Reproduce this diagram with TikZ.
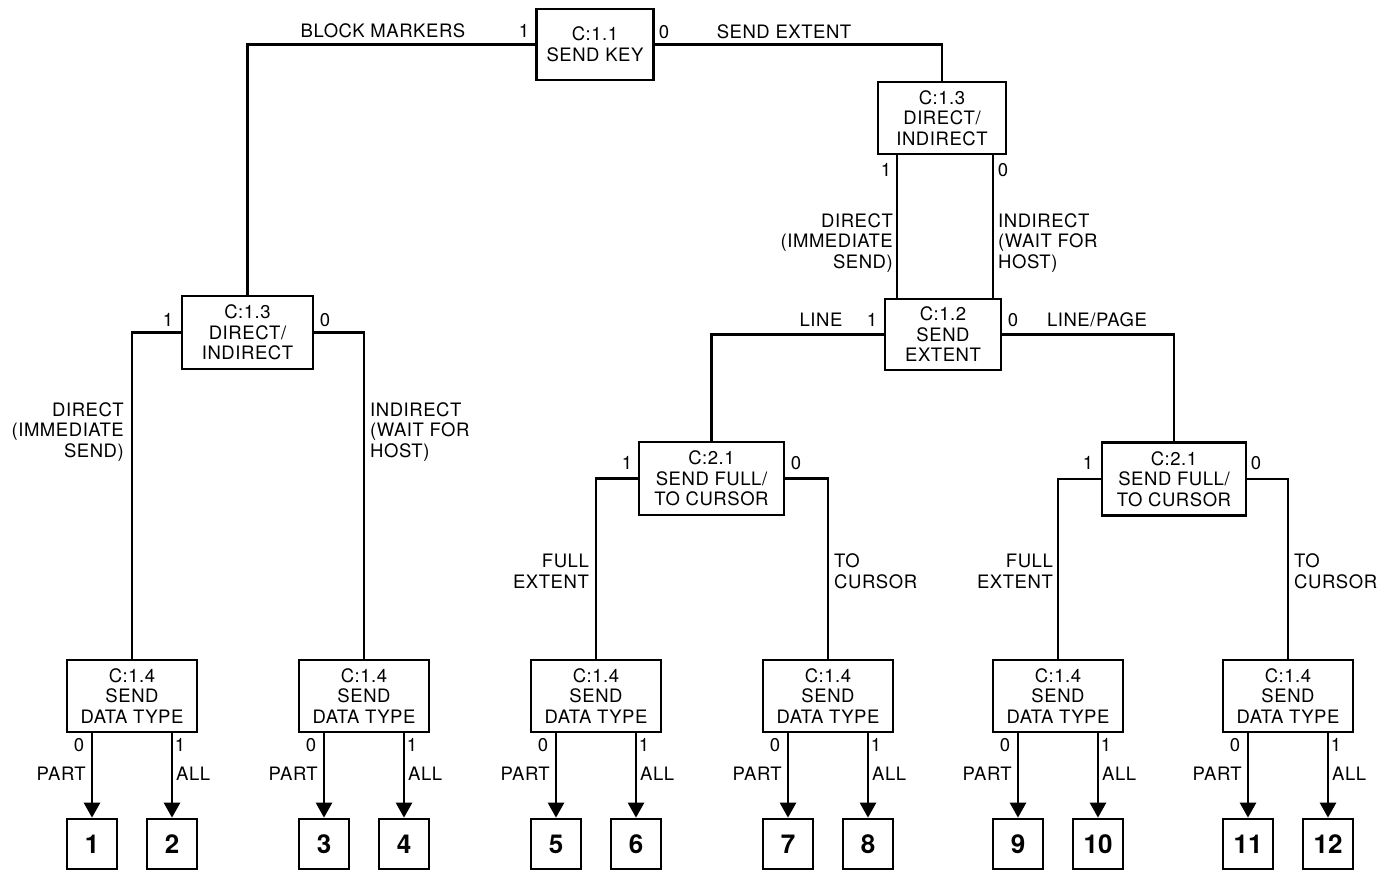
\documentclass[tikz,border=0pt]{standalone}
\usepackage{fontspec}
\setmainfont{TeX Gyre Heros}
\newfontfamily\spacedfont[LetterSpace=3]{TeX Gyre Heros}
\usetikzlibrary{arrows.meta}
\begin{document}
\begin{tikzpicture}[x=1pt,y=-1pt,
  txt/.style={font=\spacedfont\fontsize{18.5}{20.5}\selectfont},
  box/.style={draw, line width=2.7pt, rectangle, inner sep=0pt, align=center, txt},
  leaf/.style={draw, line width=2.7pt, rectangle, inner sep=0pt, minimum width=50pt, minimum height=50pt, font=\fontsize{26}{26}\selectfont\bfseries},
  lbl/.style={inner sep=0pt, txt},
  lblr/.style={inner sep=0pt, txt, align=right, anchor=east},
  lbll/.style={inner sep=0pt, txt, align=left, anchor=west},
  conn/.style={line width=2.6pt},
  arr/.style={line width=2.6pt, -{Triangle[width=16pt,length=15pt]}}
]
\useasboundingbox (0,0) rectangle (1393,871);

% main boxes
\node[box, minimum width=117pt, minimum height=71pt] (k11) at (595,44.5) {C:1.1\\SEND KEY};
\node[box, minimum width=128pt, minimum height=72pt] (d13R) at (942,118) {C:1.3\\DIRECT/\\INDIRECT};
\node[box, minimum width=131pt, minimum height=73pt] (d13L) at (247.5,332.5) {C:1.3\\DIRECT/\\INDIRECT};
\node[box, minimum width=116pt, minimum height=71pt] (e12) at (943,334.5) {C:1.2\\SEND\\EXTENT};
\node[box, minimum width=145pt, minimum height=73pt] (f21L) at (711.5,478.5) {C:2.1\\SEND FULL/\\TO CURSOR};
\node[box, minimum width=144pt, minimum height=73pt] (f21R) at (1174,479) {C:2.1\\SEND FULL/\\TO CURSOR};

% data type boxes, leaves, arrows
\foreach \i/\c in {1/132,2/364,3/596,4/828,5/1058,6/1288}{
  \node[box, minimum width=130pt, minimum height=72pt] (t\i) at (\c,696) {C:1.4\\SEND\\DATA TYPE};
  \pgfmathtruncatemacro{\a}{2*\i-1}
  \pgfmathtruncatemacro{\b}{2*\i}
  \node[leaf] (l\a) at (\c-40,844) {\a};
  \node[leaf] (l\b) at (\c+40,844) {\b};
  \draw[arr] (t\i.south -| l\a.north) -- (l\a.north);
  \draw[arr] (t\i.south -| l\b.north) -- (l\b.north);
  \node[lbl] (z\i) at (\c-53,745) {0};
  \node[lbl] (o\i) at (\c+48,745) {1};
  \node[lblr] (p\i) at (\c-46,774) {PART};
  \node[lbll] (a\i) at (\c+44,774) {ALL};
}

% connectors
\draw[conn] (k11.west) -| (d13L.north);
\draw[conn] (k11.east) -| (d13R.north);
\draw[conn] ([xshift=-45pt]d13R.south) -- ([xshift=-45pt]d13R.south |- e12.north);
\draw[conn] ([xshift=51pt]d13R.south) -- ([xshift=51pt]d13R.south |- e12.north);
\draw[conn] (e12.west) -| (f21L.north);
\draw[conn] (e12.east) -| (f21R.north);
\draw[conn] (d13L.west) -| (t1.north);
\draw[conn] (d13L.east) -| (t2.north);
\draw[conn] (f21L.west) -| (t3.north);
\draw[conn] (f21L.east) -| (t4.north);
\draw[conn] (f21R.west) -| (t5.north);
\draw[conn] (f21R.east) -| (t6.north);

% labels
\node[lbl] (bm) at (383,31) {BLOCK MARKERS};
\node[lbl] (k1) at (524,31) {1};
\node[lbl] (k0) at (664,32) {0};
\node[lbl] (se) at (784,32) {SEND EXTENT};

\node[lbl] (r1) at (886,170) {1};
\node[lbl] (r0) at (1003,170) {0};
\node[lblr] (rd) at (893,243) {DIRECT\\(IMMEDIATE\\SEND)};
\node[lbll] (ri) at (998,243) {INDIRECT\\(WAIT FOR\\HOST)};

\node[lbl] (ln) at (821,320) {LINE};
\node[lbl] (e1) at (872,320) {1};
\node[lbl] (e0) at (1013,320) {0};
\node[lbl] (lp) at (1097,320) {LINE/PAGE};

\node[lbl] (q1) at (168,320) {1};
\node[lbl] (q0) at (325,320) {0};
\node[lblr] (qd) at (124,432) {DIRECT\\(IMMEDIATE\\SEND)};
\node[lbll] (qi) at (370,432) {INDIRECT\\(WAIT FOR\\HOST)};

\node[lbl] (f1) at (627,463) {1};
\node[lbl] (f0) at (796,463) {0};
\node[lblr] (ff) at (589,571) {FULL\\EXTENT};
\node[lbll] (fc) at (834,571) {TO\\CURSOR};

\node[lbl] (g1) at (1088,463) {1};
\node[lbl] (g0) at (1256,463) {0};
\node[lblr] (gf) at (1053,571) {FULL\\EXTENT};
\node[lbll] (gc) at (1294,571) {TO\\CURSOR};
\end{tikzpicture}
\end{document}
